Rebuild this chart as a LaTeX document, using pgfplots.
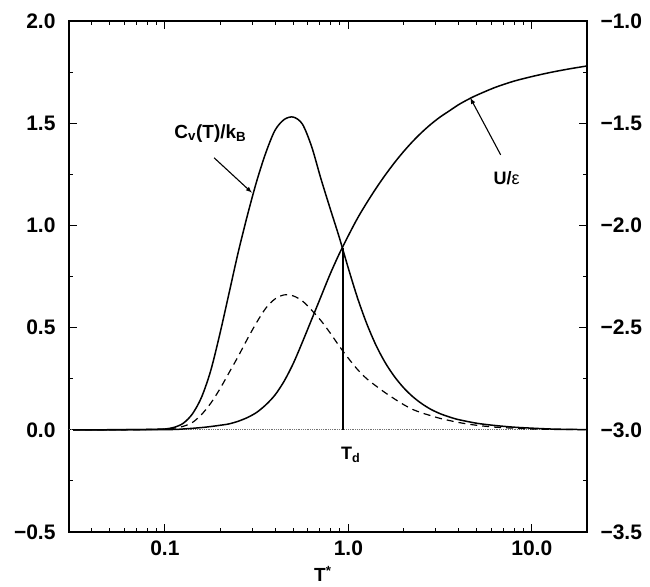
\documentclass[border=0pt]{standalone}
\usepackage{fontspec}
\setmainfont{Liberation Sans}
\usepackage{pgfplots}
\pgfplotsset{compat=1.18}

% solid C_v(T)/k_B, left axis
\pgfplotstableread{
T cv
0.0316 0
0.0501 0
0.0631 0.0003
0.0708 0.0008
0.0794 0.0015
0.0891 0.0025
0.1000 0.004
0.1122 0.012
0.1259 0.032
0.1413 0.078
0.1585 0.16
0.1778 0.29
0.1995 0.47
0.2239 0.67
0.2512 0.87
0.2818 1.05
0.3162 1.215
0.3548 1.355
0.3981 1.465
0.4467 1.518
0.5012 1.53
0.5623 1.495
0.6310 1.385
0.7079 1.23
0.7943 1.085
0.8913 0.943
1.0000 0.79
1.1220 0.645
1.2589 0.52
1.4125 0.415
1.5849 0.33
1.7783 0.262
1.9953 0.207
2.2387 0.163
2.5119 0.128
2.8184 0.10
3.1623 0.079
3.5481 0.063
3.9811 0.05
5.0119 0.032
6.3096 0.021
7.9433 0.013
10.000 0.008
12.589 0.004
15.849 0.002
20.000 0.001
}\cvtable

% dashed curve, left axis
\pgfplotstableread{
T cv
0.0316 0
0.0501 0
0.0631 0.0003
0.0794 0.001
0.0891 0.002
0.1000 0.004
0.1122 0.008
0.1259 0.017
0.1413 0.036
0.1585 0.075
0.1778 0.13
0.1995 0.20
0.2239 0.28
0.2512 0.36
0.2818 0.445
0.3162 0.525
0.3548 0.595
0.3981 0.64
0.4467 0.66
0.5012 0.655
0.5623 0.63
0.6310 0.585
0.7079 0.535
0.7943 0.475
0.8913 0.41
1.0000 0.35
1.1220 0.295
1.2589 0.25
1.4125 0.215
1.5849 0.182
1.7783 0.152
1.9953 0.124
2.2387 0.10
2.5119 0.083
2.8184 0.069
3.1623 0.056
3.9811 0.036
5.0119 0.022
6.3096 0.013
7.9433 0.008
10.000 0.004
12.589 0.002
15.849 0.0012
20.000 0.0008
}\cvdashtable

% U/epsilon, right axis
\pgfplotstableread{
T U
0.0316 -3.0
0.1000 -2.999
0.1259 -2.996
0.1585 -2.989
0.1778 -2.984
0.1995 -2.978
0.2239 -2.971
0.2512 -2.958
0.2818 -2.940
0.3162 -2.915
0.3548 -2.878
0.3981 -2.830
0.4467 -2.762
0.5012 -2.675
0.5623 -2.570
0.6310 -2.460
0.7079 -2.350
0.7943 -2.240
0.8913 -2.140
1.0000 -2.050
1.1220 -1.965
1.2589 -1.890
1.4125 -1.820
1.5849 -1.755
1.7783 -1.695
1.9953 -1.640
2.2387 -1.590
2.5119 -1.545
2.8184 -1.505
3.1623 -1.470
3.5481 -1.440
3.9811 -1.410
4.4668 -1.385
5.0119 -1.363
6.3096 -1.325
7.9433 -1.295
10.000 -1.272
12.589 -1.252
15.849 -1.235
20.000 -1.220
}\utable

\begin{document}
\begin{tikzpicture}
\pgfplotsset{
  every axis/.append style={
    width=518pt, height=511pt, scale only axis,
    xmode=log, xmin=0.03, xmax=20,
    axis line style={line width=1.4pt},
    tick style={line width=1pt, black},
    major tick length=8pt, minor tick length=4.5pt,
    tick align=inside,
    tick label style={font=\fontsize{21}{24}\selectfont\bfseries},
  }
}
\begin{axis}[
  ymin=-0.5, ymax=2,
  ytick={-0.5,0,0.5,1,1.5,2},
  yticklabels={−0.5,0.0,0.5,1.0,1.5,2.0},
  minor y tick num=1,
  ytick pos=left,
  xtick={0.1,1,10},
  xticklabels={0.1,1.0,10.0},
  minor xtick={0.04,0.05,0.06,0.07,0.08,0.09,0.2,0.3,0.4,0.5,0.6,0.7,0.8,0.9,2,3,4,5,6,7,8,9},
  xtick pos=both, xticklabel pos=bottom,
  yticklabel style={xshift=-10pt},
  xticklabel style={yshift=-5pt},
  xlabel={T\textsuperscript{*}},
  xlabel style={font=\fontsize{19}{22}\selectfont\bfseries, at={(axis description cs:0.49,0)}, anchor=north, yshift=-31pt},
]
\addplot[black!55, densely dotted, line width=0.8pt] coordinates {(0.03,0)(20,0)};
\addplot[black, line width=1.5pt, smooth] table[x=T, y=cv] {\cvtable};
\addplot[black, line width=1.2pt, smooth, dash pattern=on 7pt off 5pt] table[x=T, y=cv] {\cvdashtable};
\addplot[black, line width=1.5pt] coordinates {(0.935,0)(0.935,0.89)};
\draw[line width=1.1pt, -latex] (axis cs:0.1853,1.331) -- (axis cs:0.298,1.160);
\draw[line width=1.1pt, -latex] (axis cs:6.77,1.345) -- (axis cs:4.62,1.624);
\node[font=\fontsize{19}{22}\selectfont\bfseries] at (axis cs:0.177,1.45) {C\textsubscript{v}(T)/k\textsubscript{B}};
\node[font=\fontsize{18}{21}\selectfont] at (axis cs:7.3,1.233) {\textbf{U/}ε};
\node[font=\fontsize{18}{21}\selectfont\bfseries] at (axis cs:1.03,-0.122) {T\textsubscript{d}};
\end{axis}
\begin{axis}[
  ymin=-3.5, ymax=-1,
  ytick={-3.5,-3,-2.5,-2,-1.5,-1},
  yticklabels={−3.5,−3.0,−2.5,−2.0,−1.5,−1.0},
  minor y tick num=1,
  axis y line*=right,
  axis x line=none,
  yticklabel style={xshift=10pt},
]
\addplot[black, line width=1.5pt, smooth] table[x=T, y=U] {\utable};
\end{axis}
\pgfresetboundingbox
\useasboundingbox (-69pt,-54pt) rectangle (581pt,532pt);
\end{tikzpicture}
\end{document}
